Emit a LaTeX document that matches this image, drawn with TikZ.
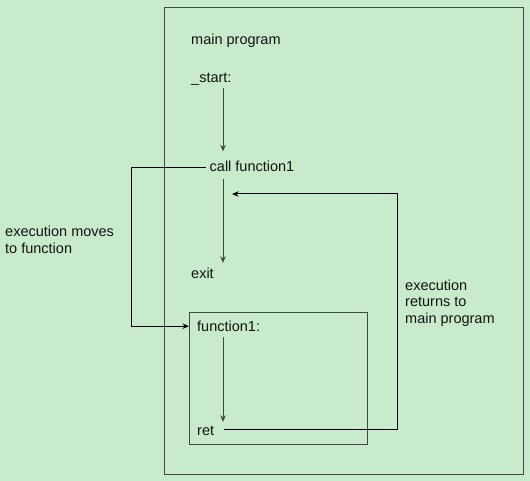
\documentclass[tikz,border=0pt]{standalone}
\usepackage{fontspec}
\setmainfont{Liberation Sans}
\usepackage{xcolor}
\usetikzlibrary{arrows.meta, positioning, calc}
\definecolor{bgfill}{HTML}{C7EBCB}
\definecolor{boxdraw}{HTML}{454545}
\definecolor{inkdark}{HTML}{141414}
\tikzset{
  code/.style={anchor=base west, inner sep=0pt, text height=10pt, text depth=3pt, font=\fontsize{14.5}{16.7}\selectfont, text=inkdark},
  note/.style={anchor=north west, inner sep=0pt, align=left, font=\fontsize{14.5}{16.7}\selectfont, text=inkdark},
  frame/.style={draw=boxdraw, line width=1pt, inner sep=0pt, anchor=north west},
  arr/.style={-{Stealth[length=6.5pt, width=5.5pt]}, line width=1pt, draw=boxdraw},
  jump/.style={-{Stealth[length=6.5pt, width=5.5pt]}, line width=1pt, draw=black},
}

\begin{document}
\begin{tikzpicture}[x=1pt, y=-1pt]
  \path[fill=bgfill, use as bounding box] (0,0) rectangle (530,481);
  \node[frame, minimum width=359pt, minimum height=467pt] (mainbox) at (164,7) {};
  \node[frame, minimum width=178pt, minimum height=132pt] (fnbox) at (189,312) {};
  \node[code] (main) at (191,45) {main program};
  \node[code] (start) at (191,82.5) {\_start:};
  \node[code] (call) at (209.5,171.5) {call function1};
  \node[code] (exit) at (191,278) {exit};
  \node[code] (fn) at (197,331.7) {function1:};
  \node[code] (ret) at (197,435) {ret};
  \node[note] (moves) at (5,226) {execution moves\\to function};
  \node[note] (returns) at (405,279.3) {execution\\returns to\\main program};
  \coordinate (col) at (223,0);
  \coordinate (back) at (397,194);
  \draw[arr, shorten <=2pt, shorten >=10pt] (start.south -| col) -- (call.north -| col);
  \draw[arr, shorten <=4.5pt, shorten >=5pt] (call.south -| col) -- (exit.north -| col);
  \draw[arr, shorten <=2pt, shorten >=3pt] (fn.south -| col) -- (ret.north -| col);
  \draw[jump, shorten <=4pt] (call.west) -- ++(-78.5,0) |- ($(fnbox.west |- fn.west)+(0,-2)$);
  \draw[jump, shorten <=9.5pt, shorten >=9pt] ([yshift=2pt]ret.east) -| (back) -- (back -| col);
\end{tikzpicture}
\end{document}
